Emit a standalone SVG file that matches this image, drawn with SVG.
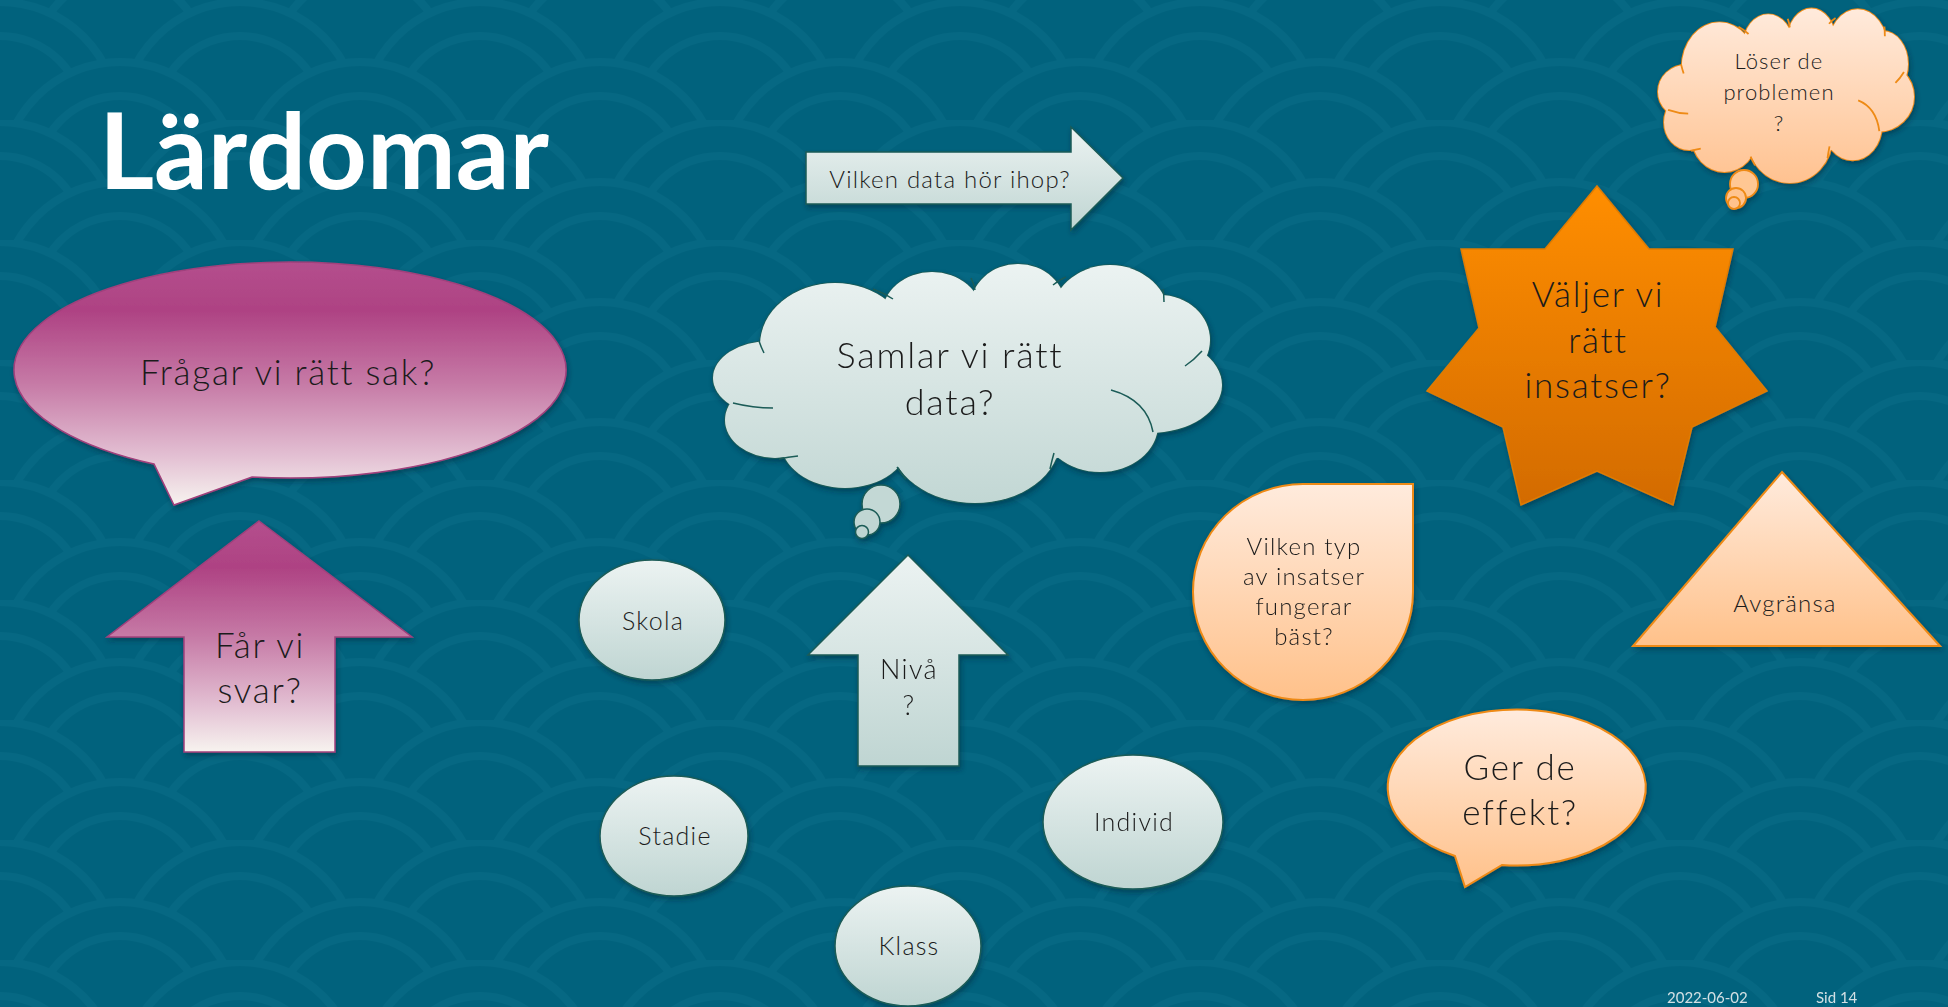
<svg xmlns="http://www.w3.org/2000/svg" xmlns:xlink="http://www.w3.org/1999/xlink" width="1948" height="1007" viewBox="0 0 1948 1007">
<defs>
<style>
.t{font-family:Lato,"Liberation Sans",sans-serif;font-weight:300;fill:#1b1b1b;text-anchor:middle;letter-spacing:0.05em}
.ring{fill:none;stroke:#066883;stroke-width:8}
.tick{fill:none}
</style>
<g id="scale">
<circle r="118" fill="#01627d" stroke="#066883" stroke-width="8"/>
<circle r="84" class="ring"/>
</g>
<pattern id="scales" width="240" height="120" patternUnits="userSpaceOnUse">
<rect width="240" height="120" fill="#01627d"/>
<use href="#scale" x="120" y="-60"/>
<use href="#scale" x="0" y="0"/>
<use href="#scale" x="240" y="0"/>
<use href="#scale" x="120" y="60"/>
<use href="#scale" x="0" y="120"/>
<use href="#scale" x="240" y="120"/>
<use href="#scale" x="120" y="180"/>
</pattern>
<linearGradient id="gMag" x1="0" y1="0" x2="0" y2="1">
<stop offset="0" stop-color="#b44f8d"/>
<stop offset="0.2" stop-color="#ae4283"/>
<stop offset="0.5" stop-color="#c67aa6"/>
<stop offset="0.8" stop-color="#e3c0d3"/>
<stop offset="1" stop-color="#f7f3ef"/>
</linearGradient>
<linearGradient id="gTeal" x1="0" y1="0" x2="0" y2="1">
<stop offset="0" stop-color="#ecf3f2"/>
<stop offset="1" stop-color="#bfd5d2"/>
</linearGradient>
<linearGradient id="gPeach" x1="0" y1="0" x2="0" y2="1">
<stop offset="0" stop-color="#ffebdd"/>
<stop offset="1" stop-color="#ffc18a"/>
</linearGradient>
<linearGradient id="gStar" x1="0" y1="0" x2="0" y2="1">
<stop offset="0" stop-color="#ff8e00"/>
<stop offset="1" stop-color="#d36b00"/>
</linearGradient>
<linearGradient id="gCloudTeal" gradientUnits="userSpaceOnUse" x1="0" y1="0" x2="0" y2="241">
<stop offset="0" stop-color="#ecf3f2"/>
<stop offset="1" stop-color="#c2d7d4"/>
</linearGradient>
<linearGradient id="gCloudPeach" gradientUnits="userSpaceOnUse" x1="0" y1="0" x2="0" y2="241">
<stop offset="0" stop-color="#ffebdd"/>
<stop offset="1" stop-color="#ffc290"/>
</linearGradient>
<filter id="sh" x="-10%" y="-10%" width="125%" height="130%">
<feDropShadow dx="1.5" dy="3" stdDeviation="2.5" flood-color="#002230" flood-opacity="0.45"/>
</filter>
<g id="cloudBumps">
<ellipse cx="122" cy="83" rx="75" ry="62" vector-effect="non-scaling-stroke"/>
<ellipse cx="219" cy="53" rx="50" ry="43" vector-effect="non-scaling-stroke"/>
<ellipse cx="305" cy="46" rx="48" ry="44" vector-effect="non-scaling-stroke"/>
<ellipse cx="397" cy="58" rx="60" ry="55" vector-effect="non-scaling-stroke"/>
<ellipse cx="447" cy="78" rx="50" ry="45" vector-effect="non-scaling-stroke"/>
<ellipse cx="437" cy="123" rx="72" ry="48" vector-effect="non-scaling-stroke"/>
<ellipse cx="387" cy="163" rx="58" ry="47" vector-effect="non-scaling-stroke"/>
<ellipse cx="262" cy="178" rx="85" ry="63" vector-effect="non-scaling-stroke"/>
<ellipse cx="132" cy="178" rx="65" ry="48" vector-effect="non-scaling-stroke"/>
<ellipse cx="62" cy="158" rx="50" ry="38" vector-effect="non-scaling-stroke"/>
<ellipse cx="57" cy="116" rx="57" ry="37" vector-effect="non-scaling-stroke"/>
</g>
<g id="cloudFill">
<use href="#cloudBumps"/>
<ellipse cx="255" cy="120" rx="200" ry="85"/>
</g>
<g id="cloudTicks" class="tick">
<path d="M160,27 Q171,31 180,37" vector-effect="non-scaling-stroke"/>
<path d="M258,16 Q261,22 262,28" vector-effect="non-scaling-stroke"/>
<path d="M340,23 Q346,18 353,15" vector-effect="non-scaling-stroke"/>
<path d="M450,27 Q451,33 451,40" vector-effect="non-scaling-stroke"/>
<path d="M472,104 Q481,98 489,89" vector-effect="non-scaling-stroke"/>
<path d="M398,128 Q434,138 440,170" vector-effect="non-scaling-stroke"/>
<path d="M341,191 Q339,198 337,207" vector-effect="non-scaling-stroke"/>
<path d="M184,205 Q188,211 193,217" vector-effect="non-scaling-stroke"/>
<path d="M66,197 Q75,195 85,194" vector-effect="non-scaling-stroke"/>
<path d="M20,141 Q40,146 60,146" vector-effect="non-scaling-stroke"/>
<path d="M46,79 Q48,85 51,91" vector-effect="non-scaling-stroke"/>
</g>
</defs>

<rect width="1948" height="1007" fill="#01627d"/>
<rect width="1948" height="1007" fill="url(#scales)"/>

<g id="title">
<text x="99" y="189" font-family="Lato, 'Liberation Sans', sans-serif" font-weight="700" font-size="106" fill="#ffffff">Lärdomar</text>
</g>

<g id="connectors"></g>

<g id="node-fragar">
<path d="M252,477 A276,108 0 1 0 154,464 L174,505 Z" fill="url(#gMag)" stroke="#a1417c" stroke-width="1.5" filter="url(#sh)"/>
<text class="t" x="288" y="385" font-size="35">Frågar vi rätt sak?</text>
</g>

<g id="node-farvisvar">
<polygon points="259,521 412,637 335,637 335,752 184,752 184,637 107,637" fill="url(#gMag)" stroke="#a1417c" stroke-width="1.5" filter="url(#sh)"/>
<text class="t" x="260" y="658" font-size="35">Får vi</text>
<text class="t" x="260" y="703" font-size="35">svar?</text>
</g>

<g id="node-vilkendata">
<polygon points="806,152 1071,152 1071,127 1123,178 1071,230 1071,204 806,204" fill="url(#gTeal)" stroke="#1b5b57" stroke-width="1.5" filter="url(#sh)"/>
<text class="t" x="950" y="188" font-size="24">Vilken data hör ihop?</text>
</g>

<g id="node-samlar">
<g filter="url(#sh)">
<g transform="translate(713,262)">
<use href="#cloudBumps" fill="url(#gCloudTeal)" stroke="#1b5b57" stroke-width="1.5"/>
<use href="#cloudFill" fill="url(#gCloudTeal)" stroke="none"/>
<use href="#cloudTicks" stroke="#1b5b57" stroke-width="1.5"/>
</g>
<circle cx="881" cy="504" r="19" fill="#c3d8d5" stroke="#1b5b57" stroke-width="1.5"/>
<circle cx="867" cy="522" r="13" fill="#c0d6d3" stroke="#1b5b57" stroke-width="1.5"/>
<circle cx="862" cy="532" r="6.5" fill="#bed5d2" stroke="#1b5b57" stroke-width="1.5"/>
</g>
<text class="t" x="950" y="368" font-size="36">Samlar vi rätt</text>
<text class="t" x="950" y="415" font-size="36">data?</text>
</g>

<g id="node-loser">
<g filter="url(#sh)">
<g transform="translate(1658,7) scale(0.503,0.730)">
<use href="#cloudBumps" fill="url(#gCloudPeach)" stroke="#ee8a14" stroke-width="1.8"/>
<use href="#cloudFill" fill="url(#gCloudPeach)" stroke="none"/>
<use href="#cloudTicks" stroke="#ee8a14" stroke-width="1.8"/>
</g>
<circle cx="1744" cy="184" r="14" fill="#ffc793" stroke="#ee8a14" stroke-width="1.8"/>
<circle cx="1736" cy="198" r="10" fill="#ffc490" stroke="#ee8a14" stroke-width="1.8"/>
<circle cx="1734" cy="203" r="6" fill="#ffc28d" stroke="#ee8a14" stroke-width="1.8"/>
</g>
<text class="t" x="1779" y="69" font-size="22">Löser de</text>
<text class="t" x="1779" y="100" font-size="22">problemen</text>
<text class="t" x="1779" y="131" font-size="22">?</text>
</g>

<g id="node-valjer">
<polygon points="1597,186 1649,249 1733,249 1715,327 1767,391 1692,427 1673,505 1597,471 1521,505 1503,427 1427,391 1479,328 1461,249 1545,249" fill="url(#gStar)" stroke="#e07c00" stroke-width="1.5" filter="url(#sh)"/>
<text class="t" x="1598" y="307" font-size="35">Väljer vi</text>
<text class="t" x="1598" y="353" font-size="35">rätt</text>
<text class="t" x="1598" y="398" font-size="35">insatser?</text>
</g>

<g id="node-vilkentyp">
<path d="M1193,592 A110,108 0 0 1 1303,484 L1413,484 L1413,592 A110,108 0 0 1 1303,700 A110,108 0 0 1 1193,592 Z" fill="url(#gPeach)" stroke="#ee8a14" stroke-width="2" filter="url(#sh)"/>
<text class="t" x="1304" y="555" font-size="24">Vilken typ</text>
<text class="t" x="1304" y="585" font-size="24">av insatser</text>
<text class="t" x="1304" y="615" font-size="24">fungerar</text>
<text class="t" x="1304" y="645" font-size="24">bäst?</text>
</g>

<g id="node-gerde">
<path d="M1502,865 A129,78 0 1 0 1455,856 L1465,887 Z" fill="url(#gPeach)" stroke="#ee8a14" stroke-width="2" filter="url(#sh)"/>
<text class="t" x="1520" y="780" font-size="35">Ger de</text>
<text class="t" x="1520" y="825" font-size="35">effekt?</text>
</g>

<g id="node-avgransa">
<polygon points="1782,472 1940,646 1633,646" fill="url(#gPeach)" stroke="#ee8a14" stroke-width="2" filter="url(#sh)"/>
<text class="t" x="1785" y="612" font-size="24">Avgränsa</text>
</g>

<g id="node-niva">
<polygon points="908,555 1008,655 959,655 959,766 858,766 858,655 808,655" fill="url(#gTeal)" stroke="#1b5b57" stroke-width="1.5" filter="url(#sh)"/>
<text class="t" x="909" y="679" font-size="27">Nivå</text>
<text class="t" x="909" y="715" font-size="27">?</text>
</g>

<g id="node-skola">
<ellipse cx="652" cy="620" rx="73" ry="60" fill="url(#gTeal)" stroke="#1b5b57" stroke-width="1.5" filter="url(#sh)"/>
<text class="t" x="653" y="630" font-size="25">Skola</text>
</g>

<g id="node-stadie">
<ellipse cx="674" cy="836" rx="74" ry="60" fill="url(#gTeal)" stroke="#1b5b57" stroke-width="1.5" filter="url(#sh)"/>
<text class="t" x="675" y="845" font-size="25">Stadie</text>
</g>

<g id="node-klass">
<ellipse cx="908" cy="946" rx="73" ry="60" fill="url(#gTeal)" stroke="#1b5b57" stroke-width="1.5" filter="url(#sh)"/>
<text class="t" x="909" y="955" font-size="25">Klass</text>
</g>

<g id="node-individ">
<ellipse cx="1133" cy="822" rx="90" ry="67" fill="url(#gTeal)" stroke="#1b5b57" stroke-width="1.5" filter="url(#sh)"/>
<text class="t" x="1134" y="831" font-size="25">Individ</text>
</g>

<g id="footer">
<text x="1667" y="1003" font-family="Lato, 'Liberation Sans', sans-serif" font-size="15" fill="#d3e0e4">2022-06-02</text>
<text x="1816" y="1003" font-family="Lato, 'Liberation Sans', sans-serif" font-size="15" fill="#d3e0e4">Sid 14</text>
</g>
</svg>
